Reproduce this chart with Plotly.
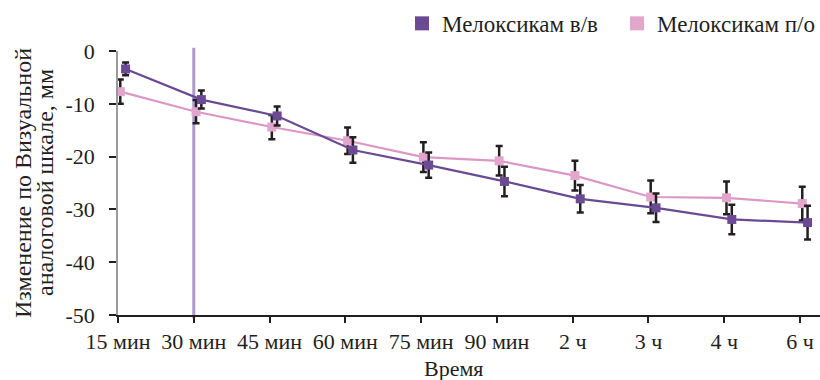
import plotly.graph_objects as go

categories = ["15 мин", "30 мин", "45 мин", "60 мин", "75 мин", "90 мин", "2 ч", "3 ч", "4 ч", "6 ч"]
iv_values = [-3.4, -9.2, -12.3, -18.75, -21.6, -24.7, -28.0, -29.7, -31.9, -32.5]
iv_errors = [1.2, 1.7, 1.8, 2.4, 2.4, 2.8, 2.6, 2.7, 2.8, 3.2]
po_values = [-7.7, -11.5, -14.4, -17.0, -20.1, -20.8, -23.6, -27.65, -27.8, -28.9]
po_errors = [2.3, 2.2, 2.3, 2.5, 2.8, 2.8, 2.8, 3.1, 3.1, 3.2]
y_ticks = [0, -10, -20, -30, -40, -50]

PURPLE = "#6a4a93"
PINK = "#e2a5cb"
PINK_LINE = "#dc97c5"
ERR = "#231f20"
FONT = "Liberation Serif"

idx = list(range(len(categories)))
x_po = [i + 0.03 for i in idx]
x_iv = [i + 0.1 for i in idx]

fig = go.Figure()

fig.add_trace(go.Scatter(
    x=x_po, y=po_values, mode="lines+markers", showlegend=False,
    line=dict(color=PINK_LINE, width=2.2),
    marker=dict(symbol="square", size=9, color=PINK),
    error_y=dict(type="data", array=po_errors, color=ERR, thickness=2.5, width=3.5),
))
fig.add_trace(go.Scatter(
    x=x_iv, y=iv_values, mode="lines+markers", showlegend=False,
    line=dict(color=PURPLE, width=2.2),
    marker=dict(symbol="square", size=9, color=PURPLE),
    error_y=dict(type="data", array=iv_errors, color=ERR, thickness=2.5, width=3.5),
))
# legend-only entries
fig.add_trace(go.Scatter(x=[None], y=[None], mode="markers", name="Мелоксикам в/в", legend="legend",
                         marker=dict(symbol="square", size=14, color=PURPLE)))
fig.add_trace(go.Scatter(x=[None], y=[None], mode="markers", name="Мелоксикам п/о", legend="legend2",
                         marker=dict(symbol="square", size=14, color=PINK)))

fig.add_shape(type="line", xref="x", yref="paper", x0=idx[1], x1=idx[1], y0=-0.012, y1=1.012,
              line=dict(color="#ad9acc", width=3), layer="below")

legend_common = dict(orientation="h", xref="container", yref="container", xanchor="left",
                     y=0.995, yanchor="top", font=dict(size=23, color=ERR), itemwidth=30,
                     bgcolor="rgba(0,0,0,0)")

fig.update_layout(
    width=820, height=380,
    margin=dict(l=118, r=0, t=51, b=65, autoexpand=False),
    paper_bgcolor="white", plot_bgcolor="white",
    font=dict(family=FONT, size=22, color=ERR),
    legend=dict(x=402 / 820, **legend_common),
    legend2=dict(x=617 / 820, **legend_common),
    xaxis=dict(range=[0, 9.264], tickvals=idx, ticktext=categories, showgrid=False,
               zeroline=False, showline=True, linecolor=ERR, linewidth=1.5, automargin=False,
               ticks="outside", ticklen=6, tickcolor=ERR, tickwidth=1.5),
    yaxis=dict(range=[-50, 0], tickvals=y_ticks, ticktext=[str(v) for v in y_ticks],
               showgrid=False, zeroline=False, showline=True, linecolor="#9a9a9a", automargin=False,
               linewidth=1.5, ticks="outside", ticklen=7, tickcolor=ERR, tickwidth=1.5,
               ticklabelstandoff=10),
)

fig.add_annotation(text="Изменение по Визуальной", xref="paper", yref="paper",
                   x=-95 / 702, y=0.5, xanchor="center", yanchor="middle", textangle=-90,
                   showarrow=False, font=dict(size=24, color=ERR))
fig.add_annotation(text="аналоговой шкале, мм", xref="paper", yref="paper",
                   x=-73 / 702, y=0.5, xanchor="center", yanchor="middle", textangle=-90,
                   showarrow=False, font=dict(size=24, color=ERR))
fig.add_annotation(text="Время", xref="paper", yref="paper", x=(453 - 118) / 702, y=-53 / 264,
                   xanchor="center", yanchor="middle", showarrow=False, font=dict(size=22, color=ERR))

fig.write_html("out.html", config={"displayModeBar": False},
               post_script="document.body.style.margin='0';")
